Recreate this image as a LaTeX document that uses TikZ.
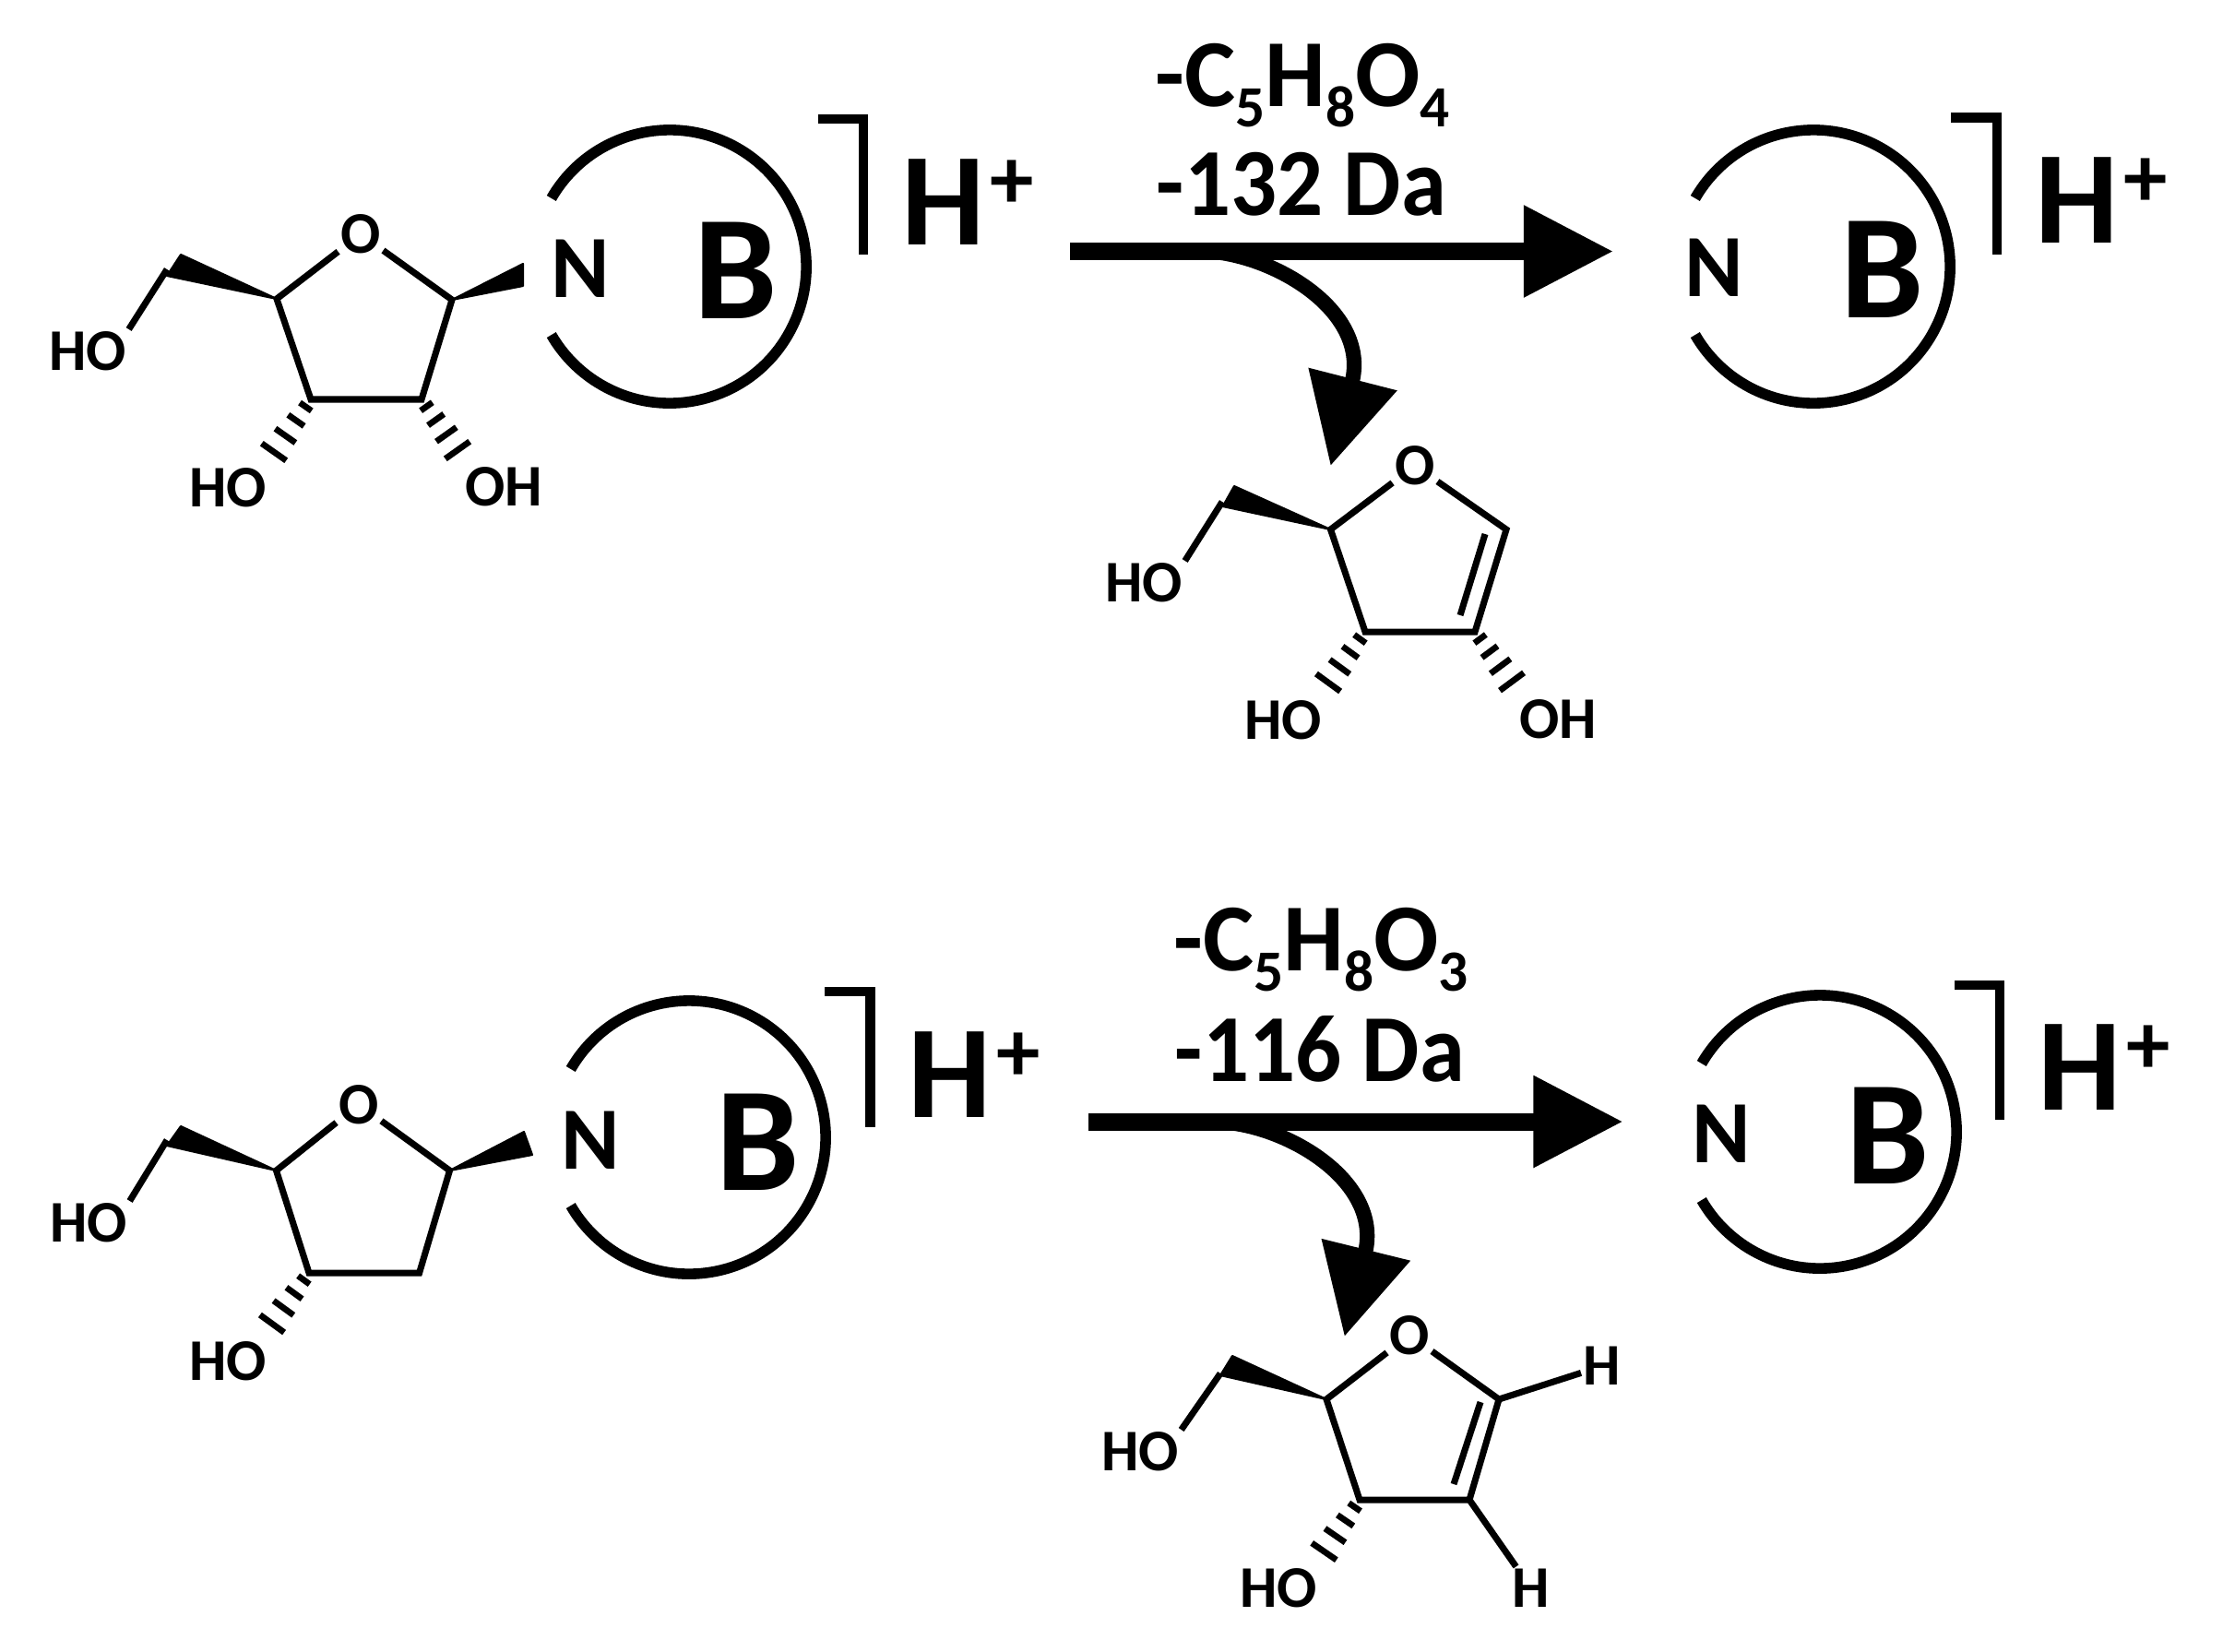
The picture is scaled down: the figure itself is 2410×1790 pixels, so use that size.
\documentclass[tikz,border=0pt]{standalone}
\usepackage{fontspec}
\setmainfont{Carlito}
\newfontfamily\massfont[FakeStretch=0.95]{Carlito}
\usetikzlibrary{arrows.meta, calc}

\tikzset{
  bond/.style={line width=2pt},
  hashline/.style={line width=1.9pt},
  wedge/.style={fill=black, draw=black, line width=0.6pt, line join=round},
  atomlabel/.style={inner sep=0.6pt, font=\fontsize{18.2}{20}\bfseries},
  ringN/.style={inner sep=0pt, font=\fontsize{27.4}{30}\bfseries},
  ringB/.style={inner sep=0pt, font=\fontsize{45.8}{50}\bfseries},
  proton/.style={inner sep=0pt, anchor=base west, font=\fontsize{40.7}{44}\bfseries},
  loss/.style={inner sep=0pt, anchor=base, font=\fontsize{29.6}{32}\bfseries},
  mass/.style={inner sep=0pt, anchor=base, font=\massfont\fontsize{29.6}{32}\bfseries},
  reaction/.style={line width=5.4pt, -{Triangle[length=27.6pt, width=27pt]}},
  release/.style={line width=4.6pt, -{Triangle[length=27.6pt, width=27pt]}},
  basering/.style={line width=3.3pt},
  bracket/.style={line width=3pt, line cap=butt, miter limit=10},
}
\newcommand{\protonplus}{H\kern1.5pt\raisebox{11pt}{\fontsize{27}{30}\selectfont +}}
\newcommand{\lowno}[1]{\raisebox{-6.3pt}{\fontsize{18}{20}\selectfont #1}}
\newcommand{\hashbond}[2]{%
  \foreach \hpos/\hw in {0.14/2.2, 0.40/3.0, 0.69/3.8, 1.0/4.6}{
    \draw[hashline] ($(#1)!\hpos!(#2)!\hw pt!90:(#1)$) -- ($(#1)!\hpos!(#2)!\hw pt!-90:(#1)$);
  }%
}
\newcommand{\ringarc}[1]{\draw[basering] ($(#1)+(150:1.48cm)$) arc[start angle=150, end angle=-150, radius=1.48cm];}

\begin{document}
\begin{tikzpicture}[x=0.01cm, y=0.01cm]
\useasboundingbox (0,0) rectangle (2410,-1790);

% Ribonucleoside, top left
\coordinate (riboCa) at (490,-325);
\coordinate (riboCb) at (457,-433);
\coordinate (riboCc) at (337,-433);
\coordinate (riboCd) at (300,-324);
\coordinate (riboCe) at (181,-292);
\coordinate (riboHa) at (496,-488);
\coordinate (riboHb) at (297,-490);
\node[atomlabel] (riboO) at (391,-254) {O};
\node[atomlabel] (riboHOe) at (95,-381) {HO};
\node[atomlabel] (riboHOc) at (247,-529) {HO};
\node[atomlabel] (riboOHb) at (546,-528) {OH};
\draw[bond] (riboO) -- (riboCa) -- (riboCb) -- (riboCc) -- (riboCd) -- (riboO);
\draw[wedge] (riboCd) -- (196,-276) -- (181,-299) -- cycle;
\draw[bond] (riboCe) -- (riboHOe.north east);
\draw[wedge] (riboCa) -- (567,-286) -- (567,-310) -- cycle;
\hashbond{riboCb}{riboHa}
\hashbond{riboCc}{riboHb}

% Base of the ribonucleoside
\coordinate (baseA) at (726,-289);
\ringarc{baseA}
\node[ringN] (baseAN) at (629,-291) {N};
\node[ringB] (baseAB) at (798,-293) {B};
\draw[bracket] (887,-129) -- (936,-129) -- (936,-276);
\node[proton] (protonA) at (977,-265) {\protonplus};

% First loss
\coordinate (lossAa) at (1160,-272.5);
\coordinate (lossAb) at (1749,-272.5);
\coordinate (lossAc) at (1300,-272);
\coordinate (lossAd) at (1442.5,-505);
\draw[reaction] (lossAa) -- (lossAb);
\draw[release] (lossAc) .. controls (1375,-272) and (1486,-335) .. (lossAd);
\node[loss] (lossAf) at (1412,-115) {-C\lowno{5}H\lowno{8}O\lowno{4}};
\node[mass] (lossAm) at (1411,-233) {-132 Da};

% Free base, top right
\coordinate (baseB) at (1966,-289);
\ringarc{baseB}
\node[ringN] (baseBN) at (1858,-290) {N};
\node[ringB] (baseBB) at (2041,-292) {B};
\draw[bracket] (2115,-127.5) -- (2165,-127.5) -- (2165,-276);
\node[proton] (protonB) at (2206,-263) {\protonplus};

% Furanoid product, top
\coordinate (furaCa) at (1633,-574);
\coordinate (furaCb) at (1599,-685);
\coordinate (furaCc) at (1480,-685);
\coordinate (furaCd) at (1442.5,-574);
\coordinate (furaCe) at (1325,-544);
\coordinate (furaDa) at (1610,-579);
\coordinate (furaDb) at (1583,-667);
\coordinate (furaHa) at (1639,-739);
\coordinate (furaHb) at (1440,-740);
\node[atomlabel] (furaO) at (1534,-505) {O};
\node[atomlabel] (furaHOe) at (1240,-632) {HO};
\node[atomlabel] (furaHOc) at (1391,-781) {HO};
\node[atomlabel] (furaOHb) at (1689,-780) {OH};
\draw[bond] (furaO) -- (furaCa) -- (furaCb) -- (furaCc) -- (furaCd) -- (furaO);
\draw[bond] (furaDa) -- (furaDb);
\draw[wedge] (furaCd) -- (1338,-527) -- (1325.6,-549) -- cycle;
\draw[bond] (furaCe) -- (furaHOe.north east);
\hashbond{furaCb}{furaHa}
\hashbond{furaCc}{furaHb}

% Deoxyribonucleoside, bottom left
\coordinate (deoxCa) at (487.5,-1269);
\coordinate (deoxCb) at (454.6,-1380);
\coordinate (deoxCc) at (335,-1380);
\coordinate (deoxCd) at (299.5,-1269);
\coordinate (deoxCe) at (181,-1236);
\coordinate (deoxHb) at (295,-1435);
\node[atomlabel] (deoxO) at (389,-1197.5) {O};
\node[atomlabel] (deoxHOe) at (96,-1326) {HO};
\node[atomlabel] (deoxHOc) at (247,-1476) {HO};
\draw[bond] (deoxO) -- (deoxCa) -- (deoxCb) -- (deoxCc) -- (deoxCd) -- (deoxO);
\draw[wedge] (deoxCd) -- (196,-1221) -- (181,-1242) -- cycle;
\draw[bond] (deoxCe) -- (deoxHOe.north east);
\draw[wedge] (deoxCa) -- (568,-1227) -- (577,-1252) -- cycle;
\hashbond{deoxCc}{deoxHb}

% Base of the deoxyribonucleoside
\coordinate (baseC) at (747,-1233);
\ringarc{baseC}
\node[ringN] (baseCN) at (640,-1236) {N};
\node[ringB] (baseCB) at (822,-1238) {B};
\draw[bracket] (894,-1075) -- (943.5,-1075) -- (943.5,-1222);
\node[proton] (protonC) at (984,-1211) {\protonplus};

% Second loss
\coordinate (lossBa) at (1180,-1216);
\coordinate (lossBb) at (1759.5,-1216);
\coordinate (lossBc) at (1315,-1216);
\coordinate (lossBd) at (1457.6,-1449);
\draw[reaction] (lossBa) -- (lossBb);
\draw[release] (lossBc) .. controls (1390,-1216) and (1499.5,-1279) .. (lossBd);
\node[loss] (lossBf) at (1432,-1052) {-C\lowno{5}H\lowno{8}O\lowno{3}};
\node[mass] (lossBm) at (1431,-1172) {-116 Da};

% Free base, bottom right
\coordinate (baseD) at (1973,-1227);
\ringarc{baseD}
\node[ringN] (baseDN) at (1866,-1229) {N};
\node[ringB] (baseDB) at (2047,-1231) {B};
\draw[bracket] (2119,-1068) -- (2168,-1068) -- (2168,-1213.5);
\node[proton] (protonD) at (2209,-1203) {\protonplus};

% Furanoid product, bottom
\coordinate (deofCa) at (1625,-1517);
\coordinate (deofCb) at (1593,-1626);
\coordinate (deofCc) at (1474,-1626);
\coordinate (deofCd) at (1438,-1517);
\coordinate (deofCe) at (1323,-1489);
\coordinate (deofDa) at (1605,-1520);
\coordinate (deofDb) at (1576,-1609);
\coordinate (deofHb) at (1435.5,-1682);
\node[atomlabel] (deofO) at (1528,-1447.5) {O};
\node[atomlabel] (deofHOe) at (1236,-1574) {HO};
\node[atomlabel] (deofHOc) at (1386,-1722) {HO};
\node[atomlabel] (deofHa) at (1737,-1481) {H};
\node[atomlabel] (deofHd) at (1660,-1722) {H};
\draw[bond] (deofO) -- (deofCa) -- (deofCb) -- (deofCc) -- (deofCd) -- (deofO);
\draw[bond] (deofDa) -- (deofDb);
\draw[wedge] (deofCd) -- (1336,-1470) -- (1323,-1491) -- cycle;
\draw[bond] (deofCe) -- (deofHOe.north east);
\draw[bond] (deofCa) -- (deofHa);
\draw[bond] (deofCb) -- (deofHd);
\hashbond{deofCc}{deofHb}
\end{tikzpicture}
\end{document}
